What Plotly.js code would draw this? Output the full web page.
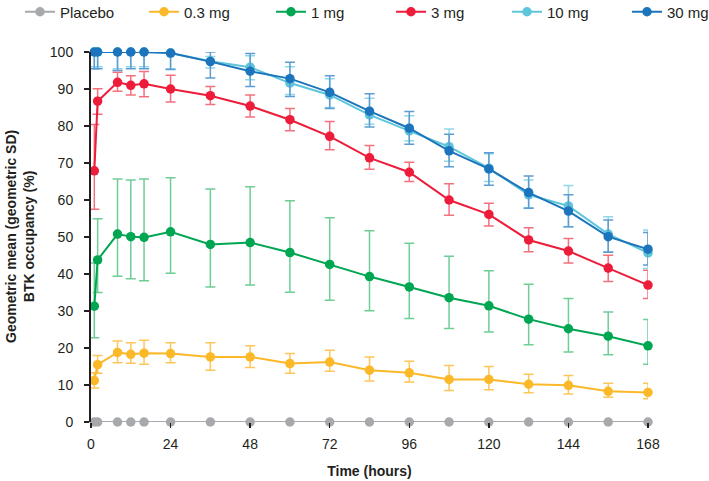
<!DOCTYPE html>
<html>
<head>
<meta charset="utf-8">
<script src="https://cdn.plot.ly/plotly-3.0.1.min.js"></script>
<style>html,body{margin:0;padding:0;background:#fff;}#chart{width:709px;height:481px;}</style>
</head>
<body>
<div id="chart"></div>
<script>
// Time points (hours)
const time = [1, 2, 8, 12, 16, 24, 36, 48, 60, 72, 84, 96, 108, 120, 132, 144, 156, 168];
const xTicks = [0, 24, 48, 72, 96, 120, 144, 168];
const yTicks = [0, 10, 20, 30, 40, 50, 60, 70, 80, 90, 100];

const seriesNames = ["Placebo", "0.3 mg", "1 mg", "3 mg", "10 mg", "30 mg"];
const xTitle = "Time (hours)";
const yTitle = "Geometric mean (geometric SD)<br>BTK occupancy (%)";

// Geometric mean BTK occupancy (%)
const placebo = [0, 0, 0, 0, 0, 0, 0, 0, 0, 0, 0, 0, 0, 0, 0, 0, 0, 0];

const mg03 = [11.2, 15.5, 18.8, 18.3, 18.6, 18.5, 17.6, 17.6, 15.8, 16.2, 14.0, 13.3, 11.5, 11.5, 10.2, 9.9, 8.3, 8.0];
const mg03Upper = [13.3, 18.0, 21.9, 21.4, 22.1, 21.4, 21.4, 20.6, 18.5, 19.4, 17.6, 16.4, 15.3, 15.0, 12.9, 12.6, 10.5, 10.5];
const mg03Lower = [9.2, 13.2, 16.0, 15.9, 15.6, 16.0, 14.0, 14.7, 13.2, 13.7, 11.1, 10.8, 8.5, 8.7, 7.9, 7.6, 6.7, 6.3];

const mg1 = [31.3, 43.8, 50.8, 50.1, 49.9, 51.4, 48.0, 48.5, 45.8, 42.6, 39.3, 36.5, 33.6, 31.4, 27.8, 25.2, 23.2, 20.6];
const mg1Upper = [43.0, 54.9, 65.7, 65.4, 65.7, 66.0, 63.0, 63.6, 59.8, 55.2, 51.7, 48.3, 44.8, 40.9, 37.2, 33.4, 29.7, 27.7];
const mg1Lower = [22.8, 35.0, 39.4, 38.7, 38.2, 40.2, 36.5, 37.0, 35.1, 32.9, 30.1, 28.0, 25.3, 24.3, 20.9, 18.9, 18.2, 15.6];

const mg3 = [67.9, 86.7, 91.8, 91.0, 91.4, 90.0, 88.2, 85.4, 81.7, 77.2, 71.4, 67.5, 60.0, 56.1, 49.2, 46.2, 41.6, 37.0];
const mg3Upper = [80.4, 90.1, 94.5, 93.6, 94.7, 93.7, 90.7, 88.4, 84.7, 81.2, 74.7, 70.2, 64.4, 59.1, 52.5, 49.6, 45.1, 41.0];
const mg3Lower = [57.5, 83.2, 89.4, 88.4, 87.9, 86.5, 85.8, 82.4, 78.7, 73.6, 68.3, 65.0, 55.9, 53.0, 46.0, 43.0, 38.0, 33.4];

const mg10 = [100, 100, 100, 100, 100, 99.7, 97.5, 95.9, 91.6, 88.4, 83.0, 78.7, 74.4, 68.6, 61.4, 58.4, 50.8, 45.7];
const mg10Upper = [100, 100, 100, 100, 100, 100, 98.8, 99.0, 96.0, 92.8, 87.5, 82.8, 79.2, 72.5, 65.4, 63.9, 55.5, 51.9];
const mg10Lower = [96.0, 96.0, 95.5, 96.0, 96.0, 95.5, 95.7, 92.5, 88.5, 85.0, 80.5, 76.0, 70.5, 65.0, 57.9, 52.8, 46.0, 41.5];

const mg30 = [100, 100, 100, 100, 100, 99.7, 97.4, 94.8, 92.8, 89.1, 84.0, 79.4, 73.3, 68.4, 62.0, 57.0, 50.1, 46.7];
const mg30Upper = [100, 100, 100, 100, 100, 100, 100, 99.6, 97.2, 93.6, 88.7, 83.9, 77.8, 72.8, 66.5, 61.4, 54.6, 51.2];
const mg30Lower = [95.5, 95.5, 95.0, 95.5, 95.5, 95.3, 93.0, 90.7, 88.0, 84.7, 79.7, 75.1, 69.0, 64.0, 57.8, 52.8, 45.9, 42.4];

const lineColors = ["#a7a9ac", "#fbb829", "#00a651", "#ed1c3a", "#5ec6db", "#1c75bc"];
const errColors = ["#a7a9ac", "#fcc65a", "#6fcd96", "#f3707f", "#8fd8e7", "#5d9cd2"];

const FONT = "Liberation Sans, Arial, Helvetica, sans-serif";
const TXT = "#231f20";
const legendIds = ["legend", "legend2", "legend3", "legend4", "legend5", "legend6"];
// left positions of each legend entry (container fraction)
const legendX = [20, 144, 271, 391, 507, 627].map(v => v / 709);

function mkTrace(i, y, up, lo) {
  const t = {
    type: "scatter",
    mode: "lines+markers",
    name: seriesNames[i],
    legend: legendIds[i],
    x: time,
    y: y,
    cliponaxis: false,
    line: {color: lineColors[i], width: 2},
    marker: {color: lineColors[i], size: 9.5, line: {width: 0}}
  };
  if (up) {
    t.error_y = {
      type: "data",
      symmetric: false,
      array: up.map((v, k) => v - y[k]),
      arrayminus: lo.map((v, k) => y[k] - v),
      color: errColors[i],
      thickness: 1.5,
      width: 5
    };
  }
  return t;
}

const data = [
  mkTrace(0, placebo),
  mkTrace(1, mg03, mg03Upper, mg03Lower),
  mkTrace(2, mg1, mg1Upper, mg1Lower),
  mkTrace(3, mg3, mg3Upper, mg3Lower),
  mkTrace(4, mg10, mg10Upper, mg10Lower),
  mkTrace(5, mg30, mg30Upper, mg30Lower)
];

const layout = {
  width: 709,
  height: 481,
  paper_bgcolor: "#ffffff",
  plot_bgcolor: "#ffffff",
  margin: {l: 91, r: 61, t: 52, b: 59},
  font: {family: FONT, size: 14, color: TXT},
  showlegend: true,
  xaxis: {
    range: [0, 168],
    tickvals: xTicks,
    ticktext: xTicks.map(String),
    ticks: "outside",
    ticklen: 5,
    tickwidth: 1.5,
    tickcolor: TXT,
    ticklabelstandoff: 4,
    showline: false,
    showgrid: false,
    zeroline: false,
    tickfont: {family: FONT, size: 14, color: TXT},
    title: {text: "<b>" + xTitle + "</b>", font: {family: FONT, size: 14, color: TXT}, standoff: 15}
  },
  yaxis: {
    range: [0, 100],
    tickvals: yTicks,
    ticktext: yTicks.map(String),
    ticks: "outside",
    ticklen: 5,
    tickwidth: 1.5,
    tickcolor: TXT,
    ticklabelstandoff: 8,
    showline: true,
    linecolor: TXT,
    linewidth: 2,
    showgrid: false,
    zeroline: false,
    tickfont: {family: FONT, size: 14, color: TXT}
  },
  annotations: [{
    text: "<b>" + yTitle + "</b>",
    xref: "paper", yref: "paper",
    x: 0, y: 0.5,
    xshift: -71,
    xanchor: "center", yanchor: "middle",
    textangle: -90,
    showarrow: false,
    font: {family: FONT, size: 14, color: TXT}
  }]
};

legendIds.forEach((id, i) => {
  layout[id] = {
    orientation: "h",
    x: legendX[i], xref: "container", xanchor: "left",
    y: 1 - 12 / 481, yref: "container", yanchor: "middle",
    font: {family: FONT, size: 15, color: TXT},
    bgcolor: "rgba(0,0,0,0)",
    borderwidth: 0
  };
});

Plotly.newPlot("chart", data, layout, {staticPlot: true, displayModeBar: false});
</script>
</body>
</html>
